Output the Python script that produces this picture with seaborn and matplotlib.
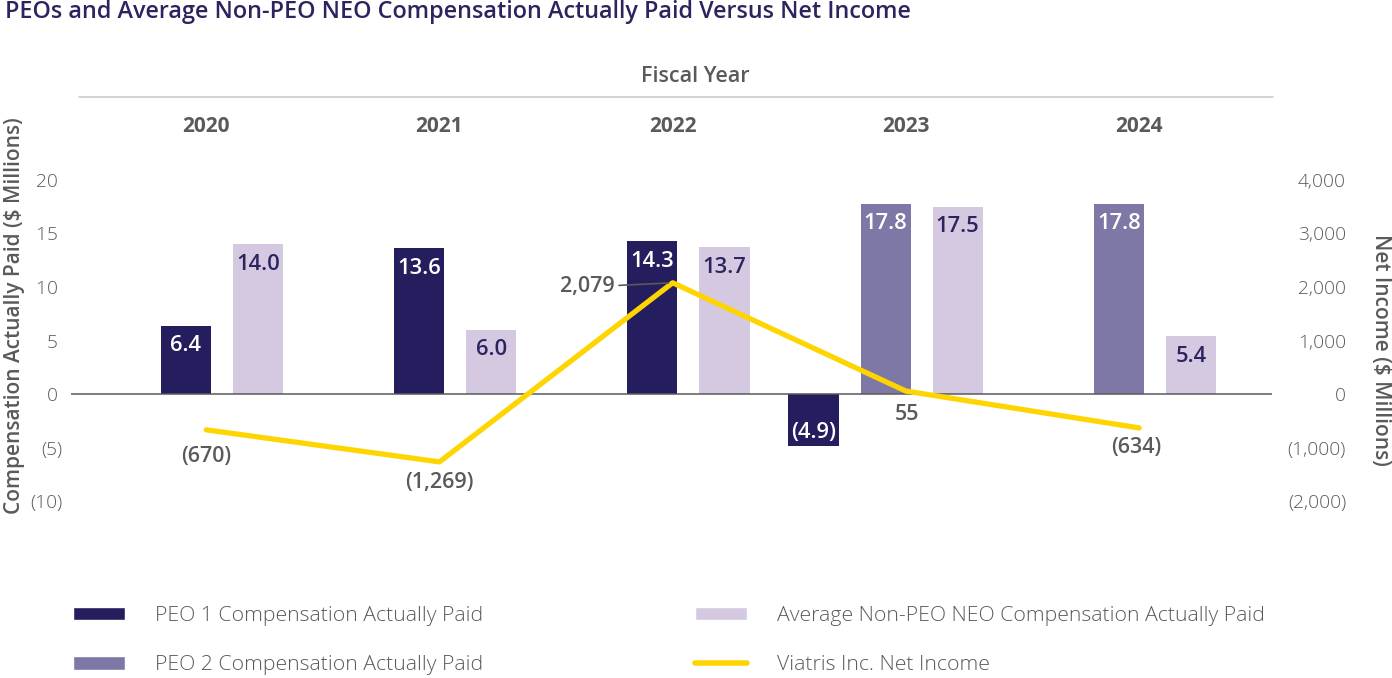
import numpy as np
import pandas as pd
import matplotlib
matplotlib.use("Agg")
import matplotlib.pyplot as plt
from matplotlib.patches import Patch
from matplotlib.lines import Line2D
import seaborn as sns

# values
years = ["2020", "2021", "2022", "2023", "2024"]
peo1_cap = [6.4, 13.6, 14.3, -4.9, None]
peo2_cap = [None, None, None, 17.8, 17.8]
non_peo_cap = [14.0, 6.0, 13.7, 17.5, 5.4]
net_income = [-670, -1269, 2079, 55, -634]

series_names = ["PEO 1 Compensation Actually Paid",
                "PEO 2 Compensation Actually Paid",
                "Average Non-PEO NEO Compensation Actually Paid"]
line_name = "Viatris Inc. Net Income"

NAVY = "#251e5e"
PURPLE = "#7d78a6"
LAVENDER = "#d5c9e2"
YELLOW = "#fed500"
GRAY = "#5a5a5a"
TITLE = "#2b245f"

palette = {series_names[0]: NAVY, series_names[1]: PURPLE, series_names[2]: LAVENDER}
label_colors = {series_names[0]: "white", series_names[1]: "white", series_names[2]: TITLE}

# layout of bars inside a year group (in year units), bars packed to the right
bar_w = 0.215
bar_step = 0.309
last_off = 0.222

rows = []
for i, yr in enumerate(years):
    vals = [(series_names[0], peo1_cap[i]), (series_names[1], peo2_cap[i]), (series_names[2], non_peo_cap[i])]
    vals = [v for v in vals if v[1] is not None]
    n = len(vals)
    for k, (name, v) in enumerate(vals):
        rows.append({"year": yr, "series": name, "value": v,
                     "pos": i + last_off - bar_step * (n - 1 - k)})
bars = pd.DataFrame(rows)
line_df = pd.DataFrame({"idx": range(len(years)), "net": net_income})

sns.set_theme(style="white")
plt.rcParams["font.family"] = ["Open Sans", "DejaVu Sans"]

fig = plt.figure(figsize=(13.92, 6.78), dpi=100)
ax = fig.add_axes([71 / 1392, 1 - 501 / 678, 1201 / 1392, 321 / 678])

min_gap = np.min(np.diff(np.sort(bars.pos.unique())))
sns.barplot(data=bars, x="pos", y="value", hue="series", palette=palette,
            hue_order=series_names, native_scale=True, dodge=False, saturation=1,
            width=bar_w / min_gap, linewidth=0, legend=False, ax=ax)
ax.axhline(0, color=GRAY, lw=1.1, zorder=1)

ax2 = ax.twinx()
sns.lineplot(data=line_df, x="idx", y="net", color=YELLOW, lw=3.8, ax=ax2,
             solid_capstyle="round", zorder=3)

ax.set_xlim(-0.58, 4.57)
ax.set_ylim(-10, 20)
ax.set_yticks([-10, -5, 0, 5, 10, 15, 20])
ax.set_yticklabels(["(10)", "(5)", "0 ", "5 ", "10 ", "15 ", "20 "])
ax.set_xticks(range(len(years)))
ax.set_xticklabels(years, fontsize=15, fontweight="bold", color=GRAY)
ax.tick_params(axis="x", top=False, bottom=False, length=0, labeltop=True, labelbottom=False, pad=30.8)
ax.tick_params(axis="y", left=False, length=0, labelsize=13.8, labelcolor=GRAY, pad=6)
for t in ax.get_yticklabels():
    t.set_fontweight("light")
ax.set_xlabel("")
ax.set_ylabel("Compensation Actually Paid ($ Millions)", fontsize=15, fontweight="semibold", color=GRAY)
ax.yaxis.set_label_coords(-0.0385, 0.576)
for s in ax.spines.values():
    s.set_visible(False)

# value labels inside the bars
for _, r in bars.iterrows():
    txt = f"{r.value:.1f}" if r.value >= 0 else f"({-r.value:.1f})"
    dy = -14.5 if r.value >= 0 else 10
    ax.annotate(txt, (r.pos, r.value), xytext=(0, dy), textcoords="offset points",
                ha="center", va="center", fontsize=15.8, fontweight="semibold",
                color=label_colors[r.series], zorder=4)

ax2.set_ylim(-2000, 4000)
ax2.set_yticks(range(-2000, 4001, 1000))
ax2.set_yticklabels(["(2,000)", "(1,000)", "0", "1,000", "2,000", "3,000", "4,000"])
ax2.tick_params(axis="y", right=False, length=0, labelsize=13.8, labelcolor=GRAY, pad=53.3)
for t in ax2.get_yticklabels():
    t.set_horizontalalignment("right")
    t.set_fontweight("light")
ax2.set_xlabel("")
ax2.set_ylabel("Net Income ($ Millions)", fontsize=15, fontweight="semibold", color=GRAY, rotation=270, va="center")
ax2.yaxis.set_label_coords(1.09, 0.47)
for s in ax2.spines.values():
    s.set_visible(False)

# net income labels (offsets in points); the 2022 label sits left with a leader line
net_offsets = [(0, -19), (0, -15), (-42, -3), (1, -17), (-2, -14)]
leader = [False, False, True, False, False]
for i, v in enumerate(net_income):
    txt = f"{v:,}" if v >= 0 else f"({-v:,})"
    dx, dy = net_offsets[i]
    if leader[i]:
        ax2.annotate(txt, (i, v), xytext=(dx, dy), textcoords="offset points",
                     ha="right", va="center", fontsize=15.5, fontweight="semibold", color=GRAY,
                     arrowprops=dict(arrowstyle="-", color=GRAY, lw=1.2, shrinkA=1, shrinkB=3))
    else:
        ax2.annotate(txt, (i, v), xytext=(dx, dy), textcoords="offset points",
                     ha="center", va="center", fontsize=15.5, fontweight="semibold", color=GRAY)

# title and "Fiscal Year" header
fig.text(5 / 1392, 1 - 12 / 678, "PEOs and Average Non-PEO NEO Compensation Actually Paid Versus Net Income",
         ha="left", va="center", fontsize=16.85, fontweight="semibold", color=TITLE)
fig.text(695 / 1392, 1 - 77 / 678, "Fiscal Year", ha="center", va="center",
         fontsize=15.5, fontweight="semibold", color=GRAY)
fig.add_artist(Line2D([79 / 1392, 1273 / 1392], [1 - 97 / 678] * 2, color="#c8c8c8", lw=1.1))

# legend in two columns
h1 = [Patch(facecolor=NAVY), Patch(facecolor=PURPLE)]
h2 = [Patch(facecolor=LAVENDER), Line2D([], [], color=YELLOW, lw=4, solid_capstyle="round")]
leg_kw = dict(frameon=False, handlelength=2.45, handleheight=0.62, handletextpad=1.41,
              labelspacing=1.38, borderpad=0, borderaxespad=0, loc="upper left", labelcolor=GRAY,
              prop={"weight": "light", "size": 15.3})
fig.legend(h1, series_names[:2], bbox_to_anchor=(73 / 1392, 1 - 606 / 678), **leg_kw)
fig.legend(h2, [series_names[2], line_name], bbox_to_anchor=(695 / 1392, 1 - 606 / 678), **leg_kw)

fig.savefig("out.png", dpi=100)
